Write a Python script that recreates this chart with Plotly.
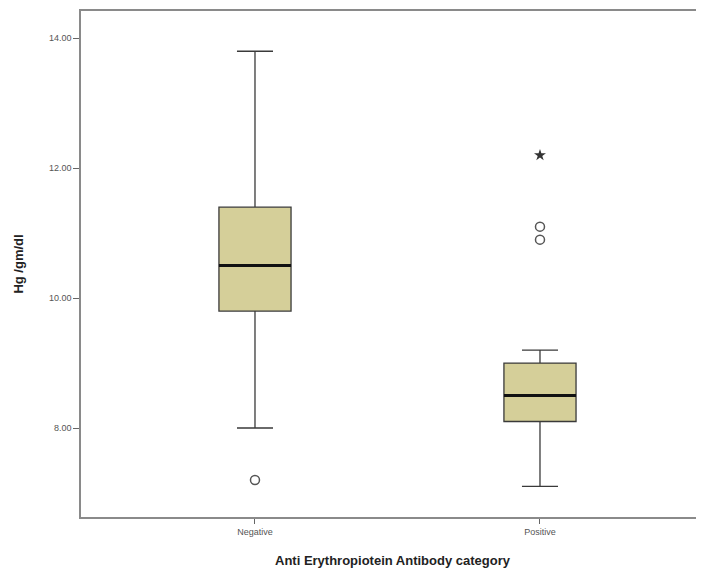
import plotly.graph_objects as go

categories = ["Negative", "Positive"]
q1 = [9.8, 8.1]
median = [10.5, 8.5]
q3 = [11.4, 9.0]
lower_whisker = [8.0, 7.1]
upper_whisker = [13.8, 9.2]
outlier_cat = [0, 1, 1]
outlier_val = [7.2, 11.1, 10.9]
extreme_cat = [1]
extreme_val = [12.2]
y_ticks = [8, 10, 12, 14]

box_w = 0.253
fill = "#d5cf99"
line_col = "#3a3a3a"

fig = go.Figure()
pos = list(range(len(categories)))
fig.add_trace(go.Box(
    x=pos, q1=q1, median=median, q3=q3,
    lowerfence=lower_whisker, upperfence=upper_whisker,
    width=box_w, whiskerwidth=0.5,
    fillcolor=fill, line=dict(color=line_col, width=1.3),
    boxpoints=False, hoverinfo="skip", showlegend=False,
))
for i, m in zip(pos, median):
    fig.add_trace(go.Scatter(
        x=[i - box_w / 2, i + box_w / 2], y=[m, m], mode="lines",
        line=dict(color="#111111", width=3), showlegend=False, hoverinfo="skip",
    ))
fig.add_trace(go.Scatter(
    x=outlier_cat, y=outlier_val, mode="markers",
    marker=dict(symbol="circle-open", size=9, color="#555555", line=dict(width=1.5)),
    showlegend=False,
))
fig.add_trace(go.Scatter(
    x=extreme_cat, y=extreme_val, mode="markers",
    marker=dict(symbol="star", size=9, color="#333333"),
    showlegend=False,
))

fig.update_layout(
    width=696, height=564,
    margin=dict(l=73, r=0, t=3, b=55),
    paper_bgcolor="white", plot_bgcolor="white",
    font=dict(family="Liberation Sans, Arial, sans-serif", color="#333333"),
    xaxis=dict(
        range=[-0.6105, 1.5755], tickvals=pos, ticktext=categories,
        showgrid=False, zeroline=False, showline=True, mirror=True,
        linecolor="#8a8a8a", linewidth=1.5, ticks="outside", ticklen=5,
        tickcolor="#666666", tickfont=dict(size=9, color="#555555"),
        title=dict(text="<b>Anti Erythropiotein Antibody category</b>",
                   font=dict(size=13, color="#222222"), standoff=20),
    ),
    yaxis=dict(
        range=[6.63, 14.42], tickvals=y_ticks,
        ticktext=[f"{v:.2f}" for v in y_ticks],
        showgrid=False, zeroline=False, showline=True, mirror=False,
        linecolor="#8a8a8a", linewidth=1.5, ticks="outside", ticklen=6,
        tickcolor="#666666", tickfont=dict(size=9, color="#555555"),
        title=dict(text="<b>Hg /gm/dl</b>", font=dict(size=13, color="#222222"),
                   standoff=22),
    ),
)
fig.write_html("out.html")
